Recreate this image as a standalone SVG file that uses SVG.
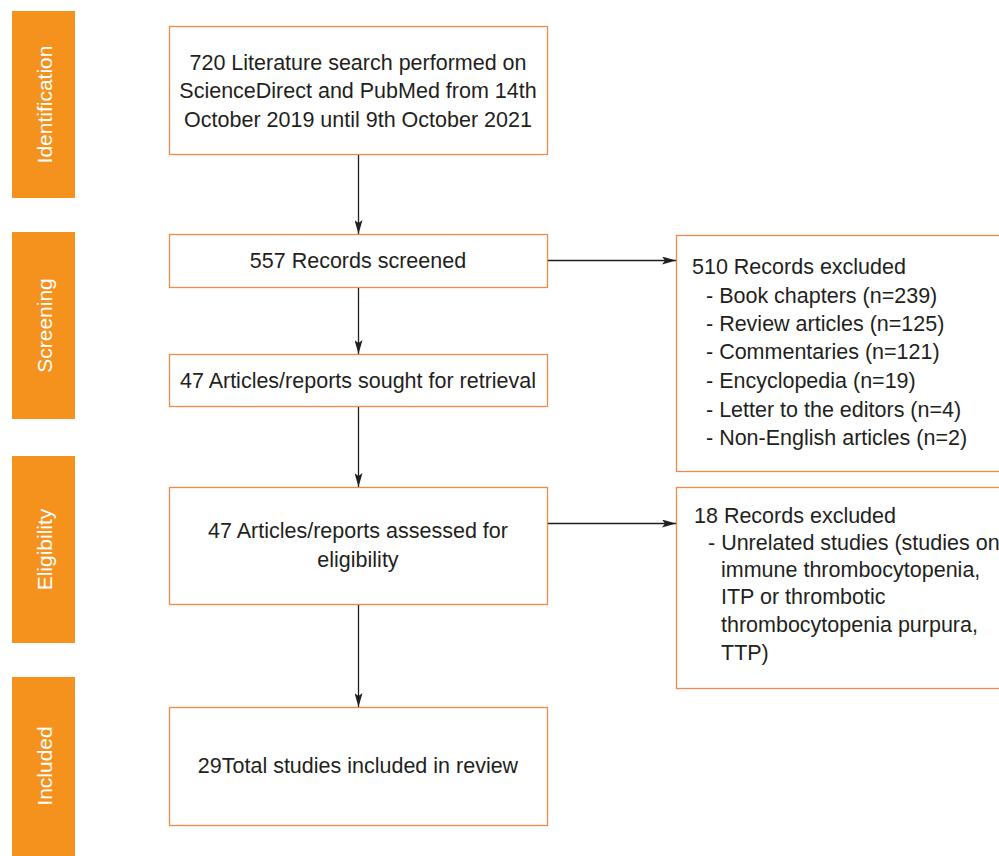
<svg xmlns="http://www.w3.org/2000/svg" width="999" height="856" viewBox="0 0 999 856">
<defs>
<marker id="ah" viewBox="0 0 14 8" refX="14" refY="4" markerWidth="14" markerHeight="8" markerUnits="userSpaceOnUse" orient="auto">
<path d="M0,0 L14,4 L0,8 L3,4 Z" fill="#231f20"/>
</marker>
<style>
.bar{fill:#f5921e}
.bl{font-family:"Liberation Sans",Arial,sans-serif;font-size:21px;fill:#ffffff;text-anchor:middle}
.box{fill:#ffffff;stroke:#f08a4b;stroke-width:1.3}
.t{font-family:"Liberation Sans",Arial,sans-serif;font-size:21.5px;fill:#231f20}
.c{text-anchor:middle}
.ln{stroke:#231f20;stroke-width:1.3;fill:none}
</style>
</defs>
<rect width="999" height="856" fill="#ffffff"/>
<g id="stage-identification"><rect class="bar" x="12" y="11" width="63" height="187"/><text class="bl" transform="translate(51.5 104.5) rotate(-90)">Identification</text></g>
<g id="stage-screening"><rect class="bar" x="12" y="232" width="63" height="187"/><text class="bl" transform="translate(51.5 325.5) rotate(-90)">Screening</text></g>
<g id="stage-eligibility"><rect class="bar" x="12" y="456" width="63" height="187"/><text class="bl" transform="translate(51.5 549.5) rotate(-90)">Eligibility</text></g>
<g id="stage-included"><rect class="bar" x="12" y="677" width="63" height="179"/><text class="bl" transform="translate(51.5 766) rotate(-90)">Included</text></g>
<g id="n1"><rect class="box" x="169.5" y="26.5" width="378" height="128"/>
<text class="t c" x="358" y="70">720 Literature search performed on</text>
<text class="t c" x="358" y="98">ScienceDirect and PubMed from 14th</text>
<text class="t c" x="358" y="127">October 2019 until 9th October 2021</text></g>
<g id="n2"><rect class="box" x="169.5" y="234.5" width="378" height="53"/>
<text class="t c" x="358" y="268">557 Records screened</text></g>
<g id="n3"><rect class="box" x="169.5" y="354.5" width="378" height="52"/>
<text class="t c" x="358" y="388">47 Articles/reports sought for retrieval</text></g>
<g id="n4"><rect class="box" x="169.5" y="487.5" width="378" height="117"/>
<text class="t c" x="358" y="538">47 Articles/reports assessed for</text>
<text class="t c" x="358" y="567">eligibility</text></g>
<g id="n5"><rect class="box" x="169.5" y="707.5" width="378" height="118"/>
<text class="t c" x="358" y="773">29Total studies included in review</text></g>
<g id="n6"><rect class="box" x="676.5" y="235.5" width="330" height="236"/>
<text class="t" x="692" y="274">510 Records excluded</text>
<text class="t" x="706" y="303">- Book chapters (n=239)</text>
<text class="t" x="706" y="331">- Review articles (n=125)</text>
<text class="t" x="706" y="359">- Commentaries (n=121)</text>
<text class="t" x="706" y="388">- Encyclopedia (n=19)</text>
<text class="t" x="706" y="417">- Letter to the editors (n=4)</text>
<text class="t" x="706" y="445">- Non-English articles (n=2)</text></g>
<g id="n7"><rect class="box" x="676.5" y="487.5" width="330" height="201"/>
<text class="t" x="694" y="523">18 Records excluded</text>
<text class="t" x="708" y="550">- Unrelated studies (studies on</text>
<text class="t" x="721" y="577">immune thrombocytopenia,</text>
<text class="t" x="721" y="604">ITP or thrombotic</text>
<text class="t" x="721" y="632">thrombocytopenia purpura,</text>
<text class="t" x="721" y="660">TTP)</text></g>
<g id="connectors">
<line class="ln" x1="358.5" y1="155" x2="358.5" y2="234" marker-end="url(#ah)"/>
<line class="ln" x1="358.5" y1="288" x2="358.5" y2="354" marker-end="url(#ah)"/>
<line class="ln" x1="358.5" y1="407" x2="358.5" y2="487" marker-end="url(#ah)"/>
<line class="ln" x1="358.5" y1="605" x2="358.5" y2="707" marker-end="url(#ah)"/>
<line class="ln" x1="548" y1="260.5" x2="676" y2="260.5" marker-end="url(#ah)"/>
<line class="ln" x1="548" y1="523.5" x2="676" y2="523.5" marker-end="url(#ah)"/>
</g>
</svg>
